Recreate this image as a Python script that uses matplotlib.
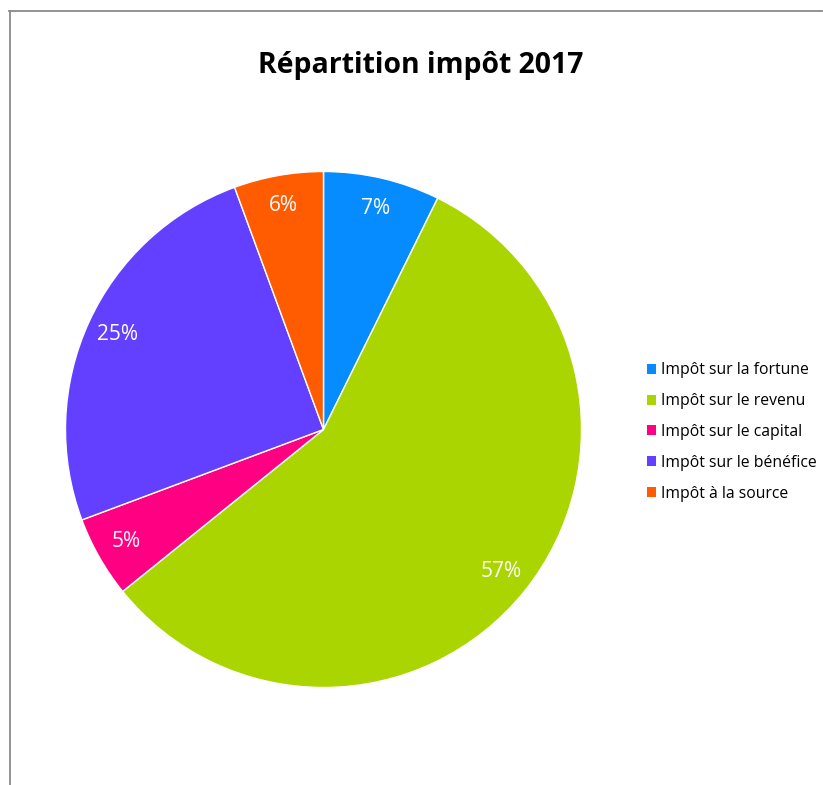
import matplotlib
matplotlib.use("Agg")
import matplotlib.pyplot as plt
from matplotlib.lines import Line2D

plt.rcParams['font.family'] = ['Open Sans', 'DejaVu Sans']

title = "Répartition impôt 2017"
categories = ["Impôt sur la fortune", "Impôt sur le revenu", "Impôt sur le capital",
              "Impôt sur le bénéfice", "Impôt à la source"]
shares = [7.3, 56.9, 5.1, 25.1, 5.6]
colors = ["#078CFF", "#AAD500", "#FF0082", "#6340FF", "#FF5B00"]

W, H = 823, 785
fig = plt.figure(figsize=(W / 100, H / 100), dpi=100)

# pie axes: centre (323.5, 429.5) px, radius 258 px
cx, cy, r = 323.5, 429.5, 258
ax = fig.add_axes([(cx - r) / W, (H - cy - r) / H, 2 * r / W, 2 * r / H])
wedges, texts, autotexts = ax.pie(
    shares, colors=colors, startangle=90, counterclock=False,
    autopct='%.0f%%', pctdistance=0.88,
    wedgeprops=dict(edgecolor='white', linewidth=1.0),
    textprops=dict(color='white', fontsize=15))
ax.set_xlim(-1, 1)
ax.set_ylim(-1, 1)
ax.set_aspect('equal')
ax.axis('off')

fig.text(420.5 / W, 1 - 66 / H, title, ha='center', va='center',
         fontsize=20.4, fontweight='bold', color='black')

leg = fig.legend(wedges, categories, loc='center left',
                 bbox_to_anchor=(647 / W, 1 - 432 / H), frameon=False,
                 fontsize=11.3, handlelength=0.6, handleheight=0.6,
                 handletextpad=0.3, labelspacing=0.94, borderpad=0,
                 borderaxespad=0)
for h in leg.legend_handles:
    h.set_edgecolor('none')

# chart frame (top and left edges)
fig.add_artist(Line2D([9 / W, 822 / W], [1 - 11 / H, 1 - 11 / H], color='#8a8a8a', lw=1.3))
fig.add_artist(Line2D([9.5 / W, 9.5 / W], [1 - 11 / H, 0], color='#8a8a8a', lw=1.3))

fig.savefig("out.png", dpi=100)
